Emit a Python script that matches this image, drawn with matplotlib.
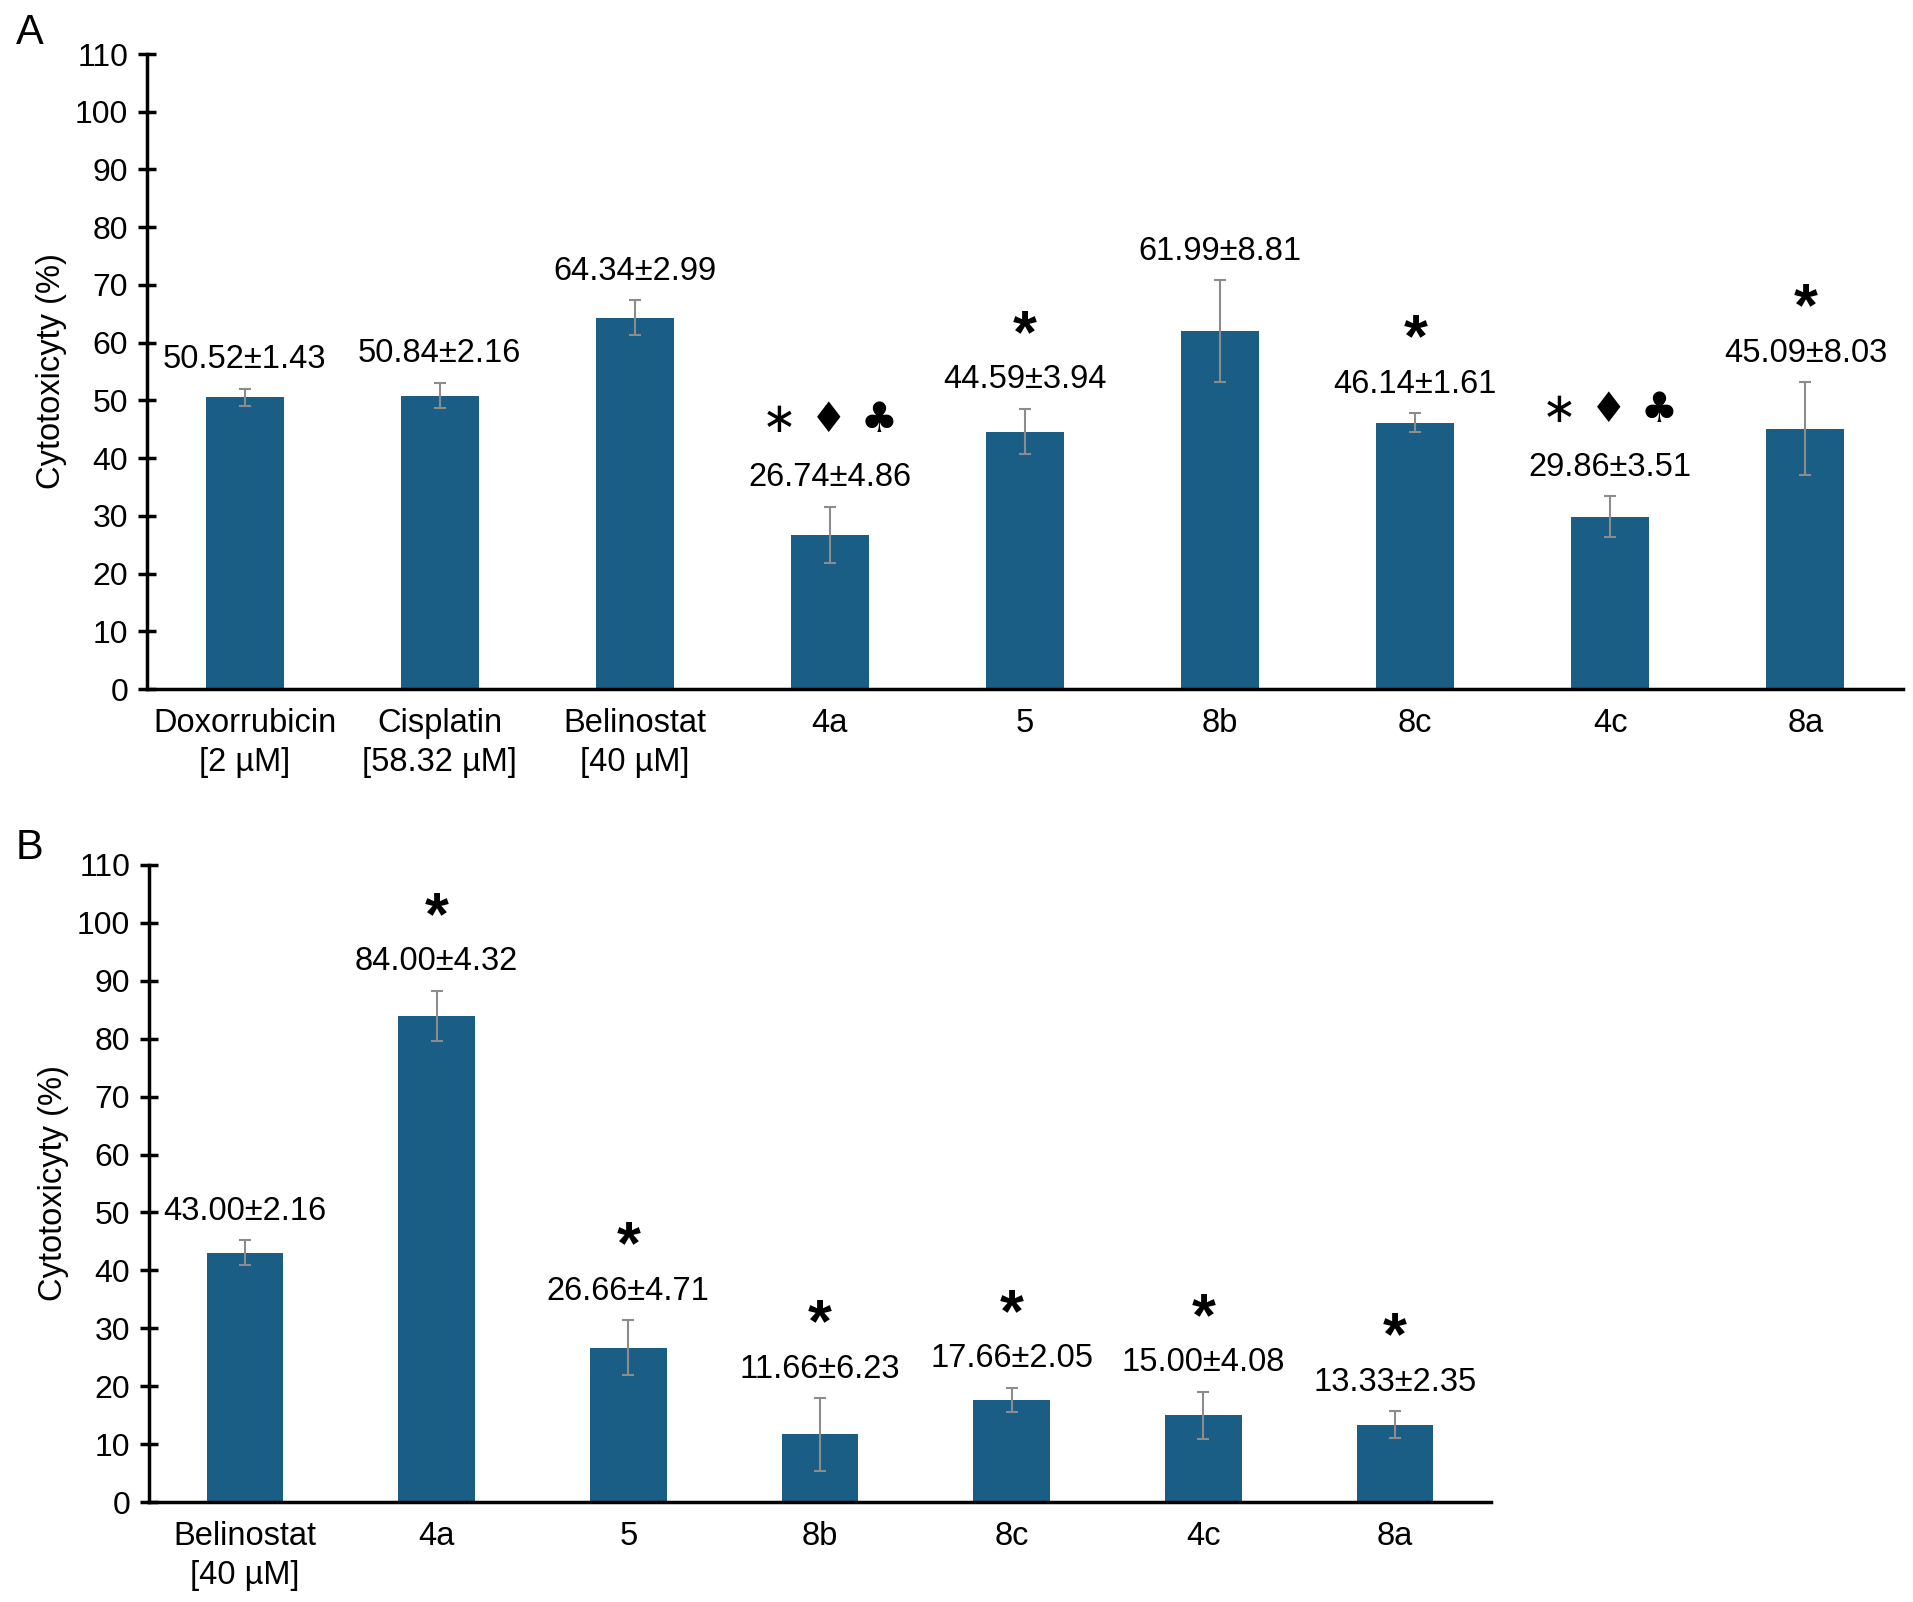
import matplotlib
matplotlib.use('Agg')
import matplotlib.pyplot as plt

plt.rcParams['font.family'] = ['Liberation Sans', 'DejaVu Sans']

# panel A
labels_a = ['Doxorrubicin\n[2 \u00b5M]', 'Cisplatin\n[58.32 \u00b5M]', 'Belinostat\n[40 \u00b5M]',
            '4a', '5', '8b', '8c', '4c', '8a']
means_a = [50.52, 50.84, 64.34, 26.74, 44.59, 61.99, 46.14, 29.86, 45.09]
errs_a = [1.43, 2.16, 2.99, 4.86, 3.94, 8.81, 1.61, 3.51, 8.03]
signs_a = ['', '', '', '\u2217 \u2666 \u2663', '*', '', '*', '\u2217 \u2666 \u2663', '*']

# panel B
labels_b = ['Belinostat\n[40 \u00b5M]', '4a', '5', '8b', '8c', '4c', '8a']
means_b = [43.00, 84.00, 26.66, 11.66, 17.66, 15.00, 13.33]
errs_b = [2.16, 4.32, 4.71, 6.23, 2.05, 4.08, 2.35]
signs_b = ['', '*', '*', '*', '*', '*', '*']

bar_color = '#1a5e86'
W, H = 1913, 1602
fig = plt.figure(figsize=(W / 100, H / 100), dpi=100)


def panel(rect, labels, means, errs, signs):
    ax = fig.add_axes(rect)
    x = range(len(means))
    ax.bar(x, means, width=0.4, color=bar_color, zorder=2)
    ax.errorbar(x, means, yerr=errs, fmt='none', ecolor='#8c8c8c',
                elinewidth=1.5, capsize=4, capthick=1.5, zorder=3)
    ax.set_xlim(-0.5, len(means) - 0.5)
    ax.set_ylim(0, 110)
    ax.set_yticks(range(0, 111, 10))
    ax.set_xticks(list(x))
    ax.set_xticklabels(labels, fontsize=23.5, linespacing=1.3)
    for sp in ['top', 'right']:
        ax.spines[sp].set_visible(False)
    for sp in ['left', 'bottom']:
        ax.spines[sp].set_linewidth(2.5)
    ax.tick_params(axis='y', direction='inout', length=13, width=2.5,
                   labelsize=23, pad=7)
    ax.tick_params(axis='x', length=0, pad=14)
    ax.set_ylabel('Cytotoxicyty (%)', fontsize=23.5, labelpad=6)
    for i, (m, e, s) in enumerate(zip(means, errs, signs)):
        ax.annotate(f'{m:.2f}\u00b1{e:.2f}', (i, m + e), xytext=(0, 21),
                    textcoords='offset points', ha='center', va='center',
                    fontsize=23.5)
        if s == '*':
            ax.annotate(s, (i, m + e), xytext=(0, 52),
                        textcoords='offset points', ha='center', va='center',
                        fontsize=44, fontweight='bold')
        elif s:
            ax.annotate(s, (i, m + e), xytext=(0, 62),
                        textcoords='offset points', ha='center', va='center',
                        fontsize=30, family='DejaVu Sans')
    return ax


ax_a = panel([147 / W, 1 - 689 / H, (1903 - 147) / W, (689 - 54) / H],
             labels_a, means_a, errs_a, signs_a)
ax_b = panel([149 / W, 1 - 1502 / H, (1491 - 149) / W, (1502 - 865) / H],
             labels_b, means_b, errs_b, signs_b)

fig.text(30 / W, 1 - 33 / H, 'A', fontsize=30, ha='center', va='center')
fig.text(30 / W, 1 - 848 / H, 'B', fontsize=30, ha='center', va='center')

fig.savefig('out.png', dpi=100)
